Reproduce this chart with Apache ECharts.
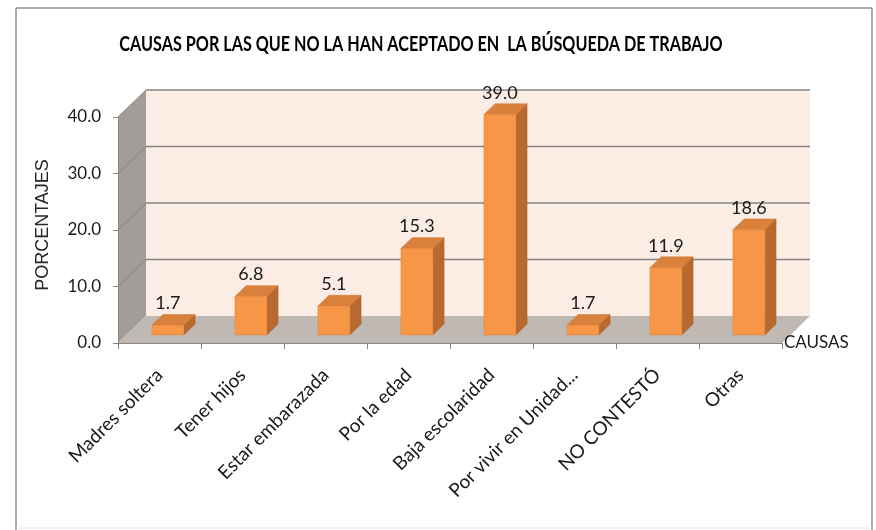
<!DOCTYPE html>
<html>
<head>
<meta charset="utf-8">
<script src="https://cdn.jsdelivr.net/npm/echarts@6/dist/echarts.min.js"></script>
<style>
  html, body { margin: 0; padding: 0; background: #ffffff; }
  #chart { width: 876px; height: 530px; }
</style>
</head>
<body>
<div id="chart"></div>
<script>
// Causes and their percentages
const categories = [
  'Madres soltera', 'Tener hijos', 'Estar embarazada', 'Por la edad',
  'Baja escolaridad', 'Por vivir en Unidad...', 'NO CONTESTÓ', 'Otras'
];
const values = [1.7, 6.8, 5.1, 15.3, 39.0, 1.7, 11.9, 18.6];
const yTicks = [0, 10, 20, 30, 40];

const titleText = 'CAUSAS POR LAS QUE NO LA HAN ACEPTADO EN  LA BÚSQUEDA DE TRABAJO';
const yName = 'PORCENTAJES';
const xName = 'CAUSAS';

// Fake-3D depth: pixel shift from the front plane to the back wall
const DX = 28, DY = -27;
const BAR_FRONT = 0.3, BAR_BACK = 0.7, BAR_WIDTH = 0.385;

const FONT = 'Lato, "Open Sans", sans-serif';

const chart = echarts.init(document.getElementById('chart'), null, { renderer: 'canvas' });

function renderWalls(params, api) {
  const n = categories.length;
  const bw = api.size([1, 0])[0];
  const c0 = api.coord([0, 0]);
  const L = c0[0] - bw / 2;
  const R = L + n * bw;
  const y0 = c0[1];
  const yTop = api.coord([0, yTicks[yTicks.length - 1]])[1];
  const children = [];
  // left side wall
  children.push({
    type: 'polygon',
    shape: { points: [[L, y0], [L + DX, y0 + DY], [L + DX, yTop + DY], [L, yTop]] },
    style: { fill: '#a29d99' }
  });
  // floor
  children.push({
    type: 'polygon',
    shape: { points: [[L, y0], [R, y0], [R + DX, y0 + DY], [L + DX, y0 + DY]] },
    style: { fill: '#bfb8b3' }
  });
  // back wall
  children.push({
    type: 'rect',
    shape: { x: L + DX, y: yTop + DY, width: R - L, height: y0 - yTop },
    style: { fill: '#fcede4' }
  });
  // grid lines on back wall and side wall
  yTicks.forEach(function (v) {
    if (v === 0) return;
    const y = api.coord([0, v])[1];
    children.push({
      type: 'line',
      shape: { x1: L + DX, y1: y + DY, x2: R + DX, y2: y + DY },
      style: { stroke: '#858382', lineWidth: 1.6 }
    });
    children.push({
      type: 'line',
      shape: { x1: L, y1: y, x2: L + DX, y2: y + DY },
      style: { stroke: '#858382', lineWidth: 1 }
    });
  });
  return { type: 'group', children: children };
}

function renderBar(params, api) {
  const i = api.value(0);
  const v = api.value(1);
  const bw = api.size([1, 0])[0];
  const w = bw * BAR_WIDTH;
  const p0 = api.coord([i, 0]);
  const p1 = api.coord([i, v]);
  const fx = DX * BAR_FRONT, fy = DY * BAR_FRONT;
  const ddx = DX * (BAR_BACK - BAR_FRONT), ddy = DY * (BAR_BACK - BAR_FRONT);
  const x1 = p0[0] - w / 2 + fx;
  const x2 = x1 + w;
  const top = p1[1] + fy;
  const bottom = p0[1] + fy;
  return {
    type: 'group',
    children: [
      {
        type: 'polygon',
        shape: { points: [[x2, top], [x2 + ddx, top + ddy], [x2 + ddx, bottom + ddy], [x2, bottom]] },
        style: { fill: '#b8692f', stroke: '#a85f2a', lineWidth: 0.5 }
      },
      {
        type: 'polygon',
        shape: { points: [[x1, top], [x2, top], [x2 + ddx, top + ddy], [x1 + ddx, top + ddy]] },
        style: { fill: '#d9803c', stroke: '#c8732f', lineWidth: 0.5 }
      },
      {
        type: 'rect',
        shape: { x: x1, y: top, width: w, height: bottom - top },
        style: { fill: '#f79646', stroke: '#e5843a', lineWidth: 0.5 }
      },
      {
        type: 'text',
        style: {
          x: x1 + w / 2,
          y: top + ddy - 2,
          text: v.toFixed(1),
          align: 'center',
          verticalAlign: 'bottom',
          fill: '#1a1a1a',
          font: '18px ' + FONT
        }
      }
    ]
  };
}

chart.setOption({
  animation: false,
  backgroundColor: '#ffffff',
  graphic: [
    // chart frame
    { type: 'line', shape: { x1: 16, y1: 8, x2: 872, y2: 8 }, style: { stroke: '#8f8f8f', lineWidth: 1.5 } },
    { type: 'line', shape: { x1: 16, y1: 8, x2: 16, y2: 530 }, style: { stroke: '#8f8f8f', lineWidth: 1.5 } },
    { type: 'line', shape: { x1: 872, y1: 8, x2: 872, y2: 530 }, style: { stroke: '#8f8f8f', lineWidth: 1.5 } },
    { type: 'line', shape: { x1: 16, y1: 528, x2: 872, y2: 528 }, style: { stroke: '#e6e6e6', lineWidth: 1 } },
    // title, condensed bold
    {
      type: 'text',
      x: 421,
      y: 45,
      scaleX: 0.81,
      style: {
        text: titleText,
        align: 'center',
        verticalAlign: 'middle',
        fill: '#000000',
        font: 'bold 20px ' + FONT
      }
    },
    // vertical axis title
    {
      type: 'text',
      x: 43,
      y: 225,
      rotation: Math.PI / 2,
      style: {
        text: yName,
        align: 'center',
        verticalAlign: 'middle',
        fill: '#262626',
        font: '18px "Liberation Sans", Arial, sans-serif'
      }
    }
  ],
  grid: { left: 118, right: 94, top: 117, bottom: 187, containLabel: false },
  xAxis: {
    type: 'category',
    data: categories,
    boundaryGap: true,
    z: 5,
    name: xName,
    nameLocation: 'end',
    nameGap: 2,
    nameTextStyle: { fontFamily: FONT, fontSize: 17, color: '#1a1a1a', align: 'left', verticalAlign: 'middle' },
    axisLine: { show: true, lineStyle: { color: '#868686', width: 1 } },
    axisTick: { show: true, alignWithLabel: false, interval: 0, length: 6, lineStyle: { color: '#868686' } },
    axisLabel: {
      interval: 0,
      rotate: 45,
      margin: 29,
      fontFamily: FONT,
      fontSize: 19,
      color: '#1a1a1a'
    },
    splitLine: { show: false }
  },
  yAxis: {
    type: 'value',
    min: 0,
    max: 40,
    interval: 10,
    z: 5,
    axisLine: { show: true, lineStyle: { color: '#868686', width: 1 } },
    axisTick: { show: true, length: 5, lineStyle: { color: '#868686' } },
    axisLabel: {
      margin: 17,
      fontFamily: FONT,
      fontSize: 17,
      color: '#1a1a1a',
      formatter: function (v) { return v.toFixed(1); }
    },
    splitLine: { show: false }
  },
  series: [
    {
      type: 'custom',
      z: 1,
      silent: true,
      renderItem: renderWalls,
      data: [[0, 0]]
    },
    {
      type: 'custom',
      z: 3,
      renderItem: renderBar,
      data: values.map(function (v, i) { return [i, v]; })
    }
  ]
});
</script>
</body>
</html>
